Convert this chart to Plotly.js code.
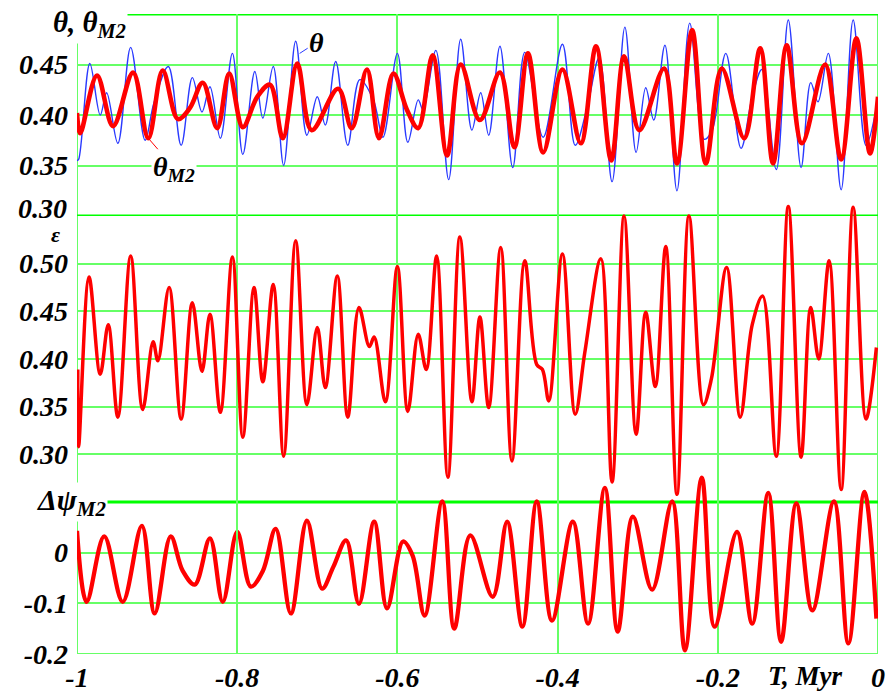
<!DOCTYPE html>
<html>
<head>
<meta charset="utf-8">
<script src="https://cdn.plot.ly/plotly-3.0.1.min.js"></script>
<style>html,body{margin:0;padding:0;background:#fff;}#chart{width:889px;height:693px;}</style>
</head>
<body>
<div id="chart"></div>
<script>
// ---- theta (blue, thin) ----
const thetaT = [-1.000,-0.998,-0.984,-0.971,-0.963,-0.949,-0.933,-0.915,-0.904,-0.886,-0.870,-0.856,-0.844,-0.834,-0.821,-0.806,-0.793,-0.778,-0.768,-0.755,-0.742,-0.727,-0.713,-0.700,-0.690,-0.677,-0.662,-0.647,-0.630,-0.618,-0.600,-0.587,-0.574,-0.568,-0.552,-0.536,-0.521,-0.507,-0.496,-0.486,-0.472,-0.456,-0.441,-0.418,-0.394,-0.378,-0.363,-0.348,-0.332,-0.316,-0.302,-0.290,-0.280,-0.266,-0.251,-0.235,-0.217,-0.207,-0.190,-0.171,-0.157,-0.145,-0.127,-0.112,-0.096,-0.084,-0.075,-0.062,-0.046,-0.031,-0.015,-0.002];
const thetaV = [0.355,0.356,0.451,0.400,0.422,0.372,0.467,0.375,0.412,0.448,0.370,0.437,0.403,0.428,0.377,0.461,0.361,0.443,0.397,0.448,0.350,0.473,0.380,0.418,0.390,0.453,0.370,0.435,0.415,0.378,0.461,0.373,0.415,0.405,0.464,0.336,0.475,0.385,0.422,0.380,0.468,0.348,0.462,0.378,0.470,0.370,0.408,0.457,0.334,0.487,0.363,0.427,0.395,0.469,0.325,0.491,0.376,0.385,0.461,0.367,0.418,0.445,0.346,0.494,0.348,0.432,0.413,0.461,0.326,0.494,0.370,0.407];

// ---- theta_M2 (red, thick) ----
const thM2T = [-1.000,-0.996,-0.975,-0.955,-0.930,-0.911,-0.893,-0.874,-0.859,-0.843,-0.825,-0.810,-0.793,-0.775,-0.759,-0.743,-0.725,-0.707,-0.674,-0.657,-0.638,-0.623,-0.605,-0.588,-0.574,-0.556,-0.538,-0.521,-0.497,-0.472,-0.454,-0.437,-0.418,-0.394,-0.371,-0.352,-0.333,-0.317,-0.298,-0.267,-0.251,-0.232,-0.215,-0.195,-0.167,-0.147,-0.131,-0.114,-0.095,-0.066,-0.046,-0.027,-0.010,0.000];
const thM2V = [0.402,0.382,0.439,0.389,0.442,0.377,0.444,0.396,0.407,0.432,0.387,0.441,0.388,0.418,0.430,0.377,0.451,0.385,0.426,0.387,0.445,0.377,0.441,0.405,0.387,0.459,0.360,0.450,0.395,0.442,0.368,0.461,0.363,0.445,0.372,0.468,0.355,0.458,0.385,0.446,0.352,0.484,0.352,0.446,0.377,0.466,0.352,0.469,0.372,0.450,0.356,0.476,0.362,0.418];

// ---- epsilon (red) ----
const epsT = [-0.999,-0.998,-0.985,-0.971,-0.961,-0.949,-0.933,-0.918,-0.905,-0.899,-0.885,-0.870,-0.856,-0.844,-0.834,-0.821,-0.806,-0.793,-0.779,-0.768,-0.755,-0.742,-0.727,-0.713,-0.700,-0.690,-0.675,-0.662,-0.648,-0.635,-0.629,-0.615,-0.600,-0.587,-0.574,-0.564,-0.551,-0.537,-0.522,-0.507,-0.497,-0.486,-0.471,-0.457,-0.441,-0.426,-0.419,-0.411,-0.394,-0.378,-0.366,-0.346,-0.332,-0.317,-0.302,-0.290,-0.278,-0.265,-0.251,-0.236,-0.218,-0.208,-0.189,-0.172,-0.157,-0.144,-0.127,-0.112,-0.096,-0.084,-0.074,-0.061,-0.046,-0.031,-0.015,-0.002];
const epsV = [0.389,0.308,0.486,0.384,0.436,0.339,0.508,0.347,0.418,0.398,0.475,0.337,0.459,0.387,0.447,0.344,0.507,0.318,0.475,0.376,0.478,0.298,0.524,0.352,0.433,0.370,0.487,0.339,0.454,0.413,0.423,0.355,0.497,0.345,0.426,0.389,0.508,0.276,0.528,0.355,0.444,0.349,0.517,0.293,0.503,0.394,0.389,0.356,0.510,0.342,0.407,0.505,0.271,0.550,0.321,0.449,0.371,0.518,0.258,0.550,0.352,0.379,0.496,0.339,0.436,0.466,0.298,0.560,0.297,0.454,0.400,0.503,0.263,0.559,0.337,0.412];

// ---- delta psi_M2 (red) ----
const dpsT = [-1.000,-0.988,-0.966,-0.943,-0.919,-0.903,-0.883,-0.868,-0.853,-0.834,-0.818,-0.800,-0.783,-0.768,-0.752,-0.733,-0.713,-0.694,-0.680,-0.664,-0.648,-0.629,-0.613,-0.593,-0.581,-0.566,-0.544,-0.529,-0.509,-0.481,-0.463,-0.444,-0.426,-0.407,-0.381,-0.362,-0.341,-0.325,-0.306,-0.282,-0.257,-0.241,-0.220,-0.204,-0.176,-0.157,-0.137,-0.121,-0.102,-0.082,-0.055,-0.037,-0.017,-0.002];
const dpsV = [0.043,-0.097,0.032,-0.097,0.053,-0.120,0.032,-0.036,-0.063,0.028,-0.097,0.041,-0.067,-0.036,0.047,-0.120,0.063,-0.071,-0.028,0.024,-0.101,0.061,-0.110,0.022,-0.006,-0.124,0.101,-0.150,0.034,-0.087,0.061,-0.146,0.101,-0.134,0.061,-0.140,0.128,-0.156,0.071,-0.073,0.101,-0.193,0.148,-0.146,0.041,-0.140,0.118,-0.176,0.097,-0.114,0.101,-0.179,0.120,-0.130];

// ---- tick labels ----
const xTickVals = [-1,-0.8,-0.6,-0.4,-0.2,0];
const xTickText = ['-1','-0.8','-0.6','-0.4','-0.2','0'];
const thTickVals = [0.35,0.40,0.45];
const thTickText = ['0.35','0.40','0.45'];
const thBottomLabel = '0.30';
const epsTickVals = [0.30,0.35,0.40,0.45,0.50];
const epsTickText = ['0.30','0.35','0.40','0.45','0.50'];
const dpsTickVals = [-0.2,-0.1,0];
const dpsTickText = ['-0.2','-0.1','0'];

const GRID = '#66ff66';
const THICK = '#00ff00';
const RED = '#ff0000';
const BLUE = '#2a3aff';
const SERIF = 'Liberation Serif, Times New Roman, serif';
const tickFont = {family: SERIF, size: 28, color: '#000', weight: 'bold', style: 'italic'};

const traces = [
  {x: thetaT, y: thetaV, xaxis: 'x', yaxis: 'y3', mode: 'lines', line: {color: BLUE, width: 1.4, shape: 'spline', smoothing: 1}},
  {x: thM2T, y: thM2V, xaxis: 'x', yaxis: 'y3', mode: 'lines', line: {color: RED, width: 4.6, shape: 'spline', smoothing: 1}},
  {x: epsT, y: epsV, xaxis: 'x', yaxis: 'y2', mode: 'lines', line: {color: RED, width: 3.5, shape: 'spline', smoothing: 1}},
  {x: dpsT, y: dpsV, xaxis: 'x', yaxis: 'y', mode: 'lines', line: {color: RED, width: 4.3, shape: 'spline', smoothing: 1}}
];

function yax(domain, range, tv, tt) {
  return {domain: domain, range: range, tickvals: tv, ticktext: tt, showgrid: true, gridcolor: GRID, gridwidth: 2,
    zeroline: false, showline: false, ticks: '', tickfont: tickFont, ticklabelstandoff: 8, anchor: 'x', fixedrange: true};
}

const layout = {
  width: 889, height: 693,
  margin: {l: 77, r: 11, t: 14, b: 39},
  paper_bgcolor: '#ffffff', plot_bgcolor: 'rgba(255,255,255,0)',
  showlegend: false,
  xaxis: {range: [-1, 0], tickvals: xTickVals, ticktext: xTickText, showgrid: true, gridcolor: GRID, gridwidth: 2,
    zeroline: false, showline: false, ticks: '', tickfont: tickFont, anchor: 'y', ticklabelstandoff: 4},
  yaxis: yax([0, 0.3167], [-0.2, 0.2], dpsTickVals, dpsTickText),
  yaxis2: yax([0.163, 0.759], [0.2, 0.6], epsTickVals, epsTickText),
  yaxis3: yax([0.684375, 1], [0.30, 0.50], thTickVals, thTickText),
  shapes: [
    {type: 'line', xref: 'x', yref: 'paper', x0: -1, x1: -1, y0: 0, y1: 1, line: {color: GRID, width: 2}, layer: 'below'},
    {type: 'line', xref: 'x', yref: 'paper', x0: 0, x1: 0, y0: 0, y1: 1, line: {color: GRID, width: 2}, layer: 'below'},
    {type: 'line', xref: 'paper', yref: 'y3', x0: 0, x1: 1, y0: 0.50, y1: 0.50, line: {color: THICK, width: 3}, layer: 'below'},
    {type: 'line', xref: 'paper', yref: 'y3', x0: 0, x1: 1, y0: 0.30, y1: 0.30, line: {color: THICK, width: 3}, layer: 'below'},
    {type: 'line', xref: 'paper', yref: 'y', x0: 0, x1: 1, y0: 0.1, y1: 0.1, line: {color: THICK, width: 3}, layer: 'below'},
    {type: 'line', xref: 'paper', yref: 'y', x0: 0, x1: 1, y0: -0.2, y1: -0.2, line: {color: GRID, width: 2}, layer: 'below'}
  ],
  annotations: [
    {xref: 'paper', yref: 'paper', x: 0.016, y: 0.984, text: '<b><i>θ, θ<sub>M2</sub></i></b>', showarrow: false,
      font: {family: SERIF, size: 29, color: '#000'}, bgcolor: '#fff', xanchor: 'center', yanchor: 'middle'},
    {xref: 'paper', yref: 'y3', x: 0, y: 0.30, xshift: -8, yshift: 8, text: '<b><i>' + thBottomLabel + '</i></b>', showarrow: false,
      font: {family: SERIF, size: 28, color: '#000'}, xanchor: 'right', yanchor: 'middle'},
    {xref: 'paper', yref: 'paper', x: -0.027, y: 0.655, text: '<b><i>ε</i></b>', showarrow: false,
      font: {family: SERIF, size: 22, color: '#000'}, xanchor: 'center', yanchor: 'middle', borderpad: 0},
    {xref: 'paper', yref: 'paper', x: -0.006, y: 0.2375, text: '<b><i>Δψ<sub>M2</sub></i></b>', showarrow: false,
      font: {family: SERIF, size: 30, color: '#000'}, bgcolor: '#fff', xanchor: 'center', yanchor: 'middle', borderpad: 0},
    {xref: 'x', yref: 'y3', x: -0.911, y: 0.377, text: '<b><i>θ<sub>M2</sub></i></b>', showarrow: true, arrowhead: 0,
      arrowwidth: 1, arrowcolor: RED, ax: 26, ay: 30, font: {family: SERIF, size: 28, color: '#000'}, bgcolor: '#fff'},
    {xref: 'x', yref: 'y3', x: -0.722, y: 0.461, text: '<b><i>θ</i></b>', showarrow: true, arrowhead: 0,
      arrowwidth: 1, arrowcolor: BLUE, ax: 17, ay: -11, font: {family: SERIF, size: 28, color: '#000'}},
    {xref: 'x', yref: 'paper', x: -0.091, y: 0, yshift: -22, text: '<b><i>T, Myr</i></b>', showarrow: false,
      font: {family: SERIF, size: 27, color: '#000'}, xanchor: 'center', yanchor: 'middle', borderpad: 0}
  ]
};

Plotly.newPlot('chart', traces, layout, {staticPlot: true, displayModeBar: false});
</script>
</body>
</html>
